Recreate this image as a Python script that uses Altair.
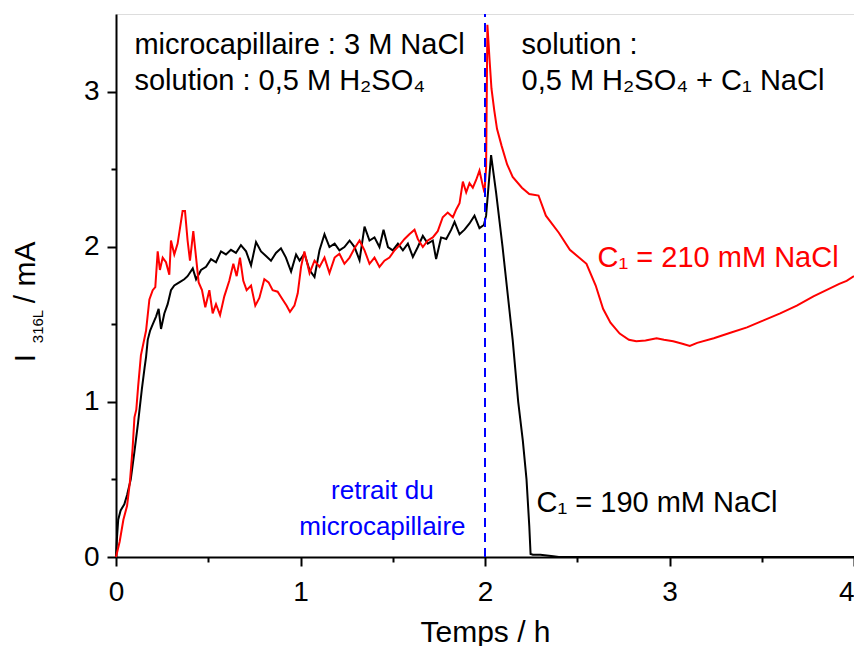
import altair as alt
import pandas as pd

FONT = "Liberation Sans"

# ---- data ----
# black curve : C1 = 190 mM NaCl
black_rise = [(0, 0), (0.005, 0.12), (0.012, 0.24), (0.025, 0.30), (0.045, 0.34), (0.06, 0.40),
              (0.08, 0.50), (0.10, 0.68), (0.12, 0.87), (0.14, 1.08), (0.155, 1.22), (0.163, 1.29),
              (0.172, 1.40), (0.185, 1.46), (0.199, 1.50), (0.217, 1.55), (0.231, 1.60), (0.244, 1.47),
              (0.262, 1.57), (0.28, 1.63), (0.298, 1.72), (0.316, 1.75), (0.343, 1.77), (0.37, 1.79),
              (0.388, 1.81), (0.416, 1.86), (0.434, 1.79), (0.461, 1.85), (0.488, 1.87)]
black_plateau = [(0.515, 1.92), (0.542, 1.90), (0.569, 1.97), (0.596, 1.95), (0.623, 1.98), (0.65, 1.96),
                 (0.677, 2.01), (0.705, 1.97), (0.732, 1.88), (0.759, 2.03), (0.786, 1.97), (0.813, 1.94),
                 (0.84, 1.91), (0.867, 1.96), (0.894, 1.99), (0.921, 1.93), (0.949, 1.84), (0.976, 1.95),
                 (0.995, 1.91), (1.021, 1.955), (1.049, 1.85), (1.076, 1.805), (1.103, 1.977), (1.13, 2.08),
                 (1.157, 1.998), (1.185, 2.02), (1.211, 1.977), (1.238, 1.998), (1.266, 2.04), (1.293, 1.998),
                 (1.32, 1.913), (1.347, 2.13), (1.374, 2.04), (1.401, 2.06), (1.428, 1.998), (1.45, 2.11),
                 (1.474, 1.998), (1.50, 1.977), (1.528, 2.02), (1.555, 1.977), (1.582, 2.02), (1.609, 1.934),
                 (1.636, 1.998), (1.663, 2.07), (1.69, 2.02), (1.717, 2.04), (1.735, 1.92), (1.762, 2.06),
                 (1.79, 2.05), (1.817, 2.11), (1.835, 2.16), (1.862, 2.08), (1.889, 2.11), (1.916, 2.15),
                 (1.943, 2.20), (1.97, 2.12), (1.994, 2.14), (2.006, 2.20)]
black_drop = [(2.033, 2.59), (2.06, 2.35), (2.095, 2.00), (2.127, 1.65), (2.15, 1.40), (2.18, 1.00),
              (2.205, 0.75), (2.225, 0.50), (2.24, 0.20), (2.247, 0.02), (2.26, 0.015), (2.30, 0.015),
              (2.37, 0.005), (2.40, 0.0), (4.0, 0.0)]

# red curve : C1 = 210 mM NaCl
red_rise = [(0, 0), (0.02, 0.10), (0.04, 0.24), (0.06, 0.33), (0.075, 0.48), (0.09, 0.70), (0.10, 0.90),
            (0.11, 0.95), (0.12, 1.10), (0.135, 1.30), (0.163, 1.46), (0.181, 1.66), (0.199, 1.72),
            (0.213, 1.74), (0.226, 1.97), (0.238, 1.85), (0.253, 1.93), (0.271, 1.90), (0.289, 1.82),
            (0.298, 2.04), (0.316, 1.95), (0.334, 2.02), (0.352, 2.16), (0.361, 2.23), (0.374, 2.23),
            (0.388, 2.04), (0.401, 1.91), (0.419, 2.10), (0.434, 1.93)]
red_plateau = [(0.448, 1.77), (0.466, 1.72), (0.484, 1.61), (0.506, 1.72), (0.524, 1.57), (0.542, 1.63),
               (0.564, 1.56), (0.587, 1.68), (0.614, 1.78), (0.636, 1.89), (0.654, 1.81), (0.672, 1.93),
               (0.69, 1.78), (0.708, 1.72), (0.732, 1.75), (0.755, 1.62), (0.777, 1.67), (0.804, 1.79),
               (0.827, 1.77), (0.849, 1.72), (0.876, 1.71), (0.903, 1.66), (0.925, 1.62), (0.943, 1.58),
               (0.967, 1.62), (0.985, 1.70), (1.003, 1.87), (1.021, 1.97), (1.049, 1.83), (1.076, 1.91),
               (1.103, 1.87), (1.13, 1.93), (1.157, 1.83), (1.185, 1.93), (1.211, 1.955), (1.238, 1.89),
               (1.266, 1.93), (1.293, 1.99), (1.32, 2.04), (1.347, 1.977), (1.374, 1.89), (1.401, 1.93),
               (1.428, 1.87), (1.455, 1.91), (1.482, 1.93), (1.51, 1.977), (1.537, 2.01), (1.564, 2.05),
               (1.59, 2.08), (1.618, 2.11), (1.636, 2.05), (1.663, 1.998), (1.69, 2.04), (1.717, 2.06),
               (1.744, 2.10), (1.771, 2.19), (1.798, 2.22), (1.826, 2.19), (1.844, 2.24), (1.862, 2.28),
               (1.88, 2.42), (1.898, 2.35), (1.916, 2.41), (1.934, 2.38), (1.952, 2.43), (1.97, 2.49),
               (1.985, 2.41), (1.997, 2.35), (2.006, 2.51)]
red_decay = [(2.013, 3.43), (2.025, 3.20), (2.035, 3.02), (2.05, 2.88), (2.065, 2.76), (2.09, 2.65),
             (2.12, 2.53), (2.15, 2.45), (2.20, 2.38), (2.24, 2.34), (2.29, 2.33), (2.33, 2.20),
             (2.40, 2.09), (2.46, 1.98), (2.55, 1.89), (2.60, 1.75), (2.64, 1.60), (2.68, 1.51),
             (2.73, 1.44), (2.78, 1.40), (2.82, 1.39), (2.87, 1.395), (2.93, 1.41), (2.97, 1.40),
             (3.02, 1.39), (3.07, 1.375), (3.11, 1.36), (3.15, 1.38), (3.24, 1.41), (3.33, 1.445),
             (3.42, 1.48), (3.50, 1.52), (3.60, 1.57), (3.69, 1.62), (3.78, 1.68), (3.85, 1.72),
             (3.92, 1.76), (3.96, 1.78), (4.0, 1.81)]

x_ticks = [0, 0.5, 1, 1.5, 2, 2.5, 3, 3.5, 4]
y_ticks = [0, 0.5, 1, 1.5, 2, 2.5, 3]
removal_time = 2.0

black_df = pd.DataFrame(black_rise + black_plateau + black_drop, columns=["t", "I"])
red_df = pd.DataFrame(red_rise + red_plateau + red_decay, columns=["t", "I"])
rule_df = pd.DataFrame({"t": [removal_time], "y0": [0.0], "y1": [3.5]})

# annotation texts (positions in data coordinates)
black_notes = pd.DataFrame({
    "t": [0.10, 0.10, 2.198, 2.198, 2.279],
    "I": [3.245, 3.01, 3.245, 3.01, 0.292],
    "label": ["microcapillaire : 3 M NaCl", "solution : 0,5 M H\u2082SO\u2084",
              "solution :", "0,5 M H\u2082SO\u2084 + C\u2081 NaCl", "C\u2081 = 190 mM NaCl"],
})
red_notes = pd.DataFrame({"t": [2.61], "I": [1.87], "label": ["C\u2081 = 210 mM NaCl"]})
blue_notes = pd.DataFrame({"t": [1.444, 1.444], "I": [0.373, 0.142],
                           "label": ["retrait du", "microcapillaire"]})
ytitle_main = pd.DataFrame({"t": [-0.4417, -0.4417], "I": [1.256, 1.636], "label": ["I", "/ mA"]})
ytitle_sub = pd.DataFrame({"t": [-0.398], "I": [1.378], "label": ["316L"]})

xs = alt.Scale(domain=[0, 4], nice=False, zero=False)
ys = alt.Scale(domain=[0, 3.5], nice=False, zero=False)

int_labels = "datum.value % 1 === 0 ? format(datum.value, 'd') : ''"
x_axis = alt.Axis(
    values=x_ticks, labelExpr=int_labels,
    tickSize={"condition": {"test": "datum.value % 1 === 0", "value": 9}, "value": 5},
    labelAlign={"condition": {"test": "datum.value === 4", "value": "right"}, "value": "center"},
    labelFontSize=28, labelFont=FONT, labelColor="black", labelPadding=12, labelFlush=False,
    labelOverlap=False, tickColor="black", tickWidth=2, domainColor="black", domainWidth=2,
    grid=False, title="Temps / h", titleFont=FONT, titleFontSize=30, titleFontWeight="normal",
    titleColor="black", titlePadding=11,
)
y_axis = alt.Axis(
    values=y_ticks, labelExpr=int_labels,
    tickSize={"condition": {"test": "datum.value % 1 === 0", "value": 9}, "value": 5},
    labelFontSize=28, labelFont=FONT, labelColor="black", labelPadding=8, labelFlush=False,
    labelOverlap=False, tickColor="black", tickWidth=2, domainColor="black", domainWidth=2,
    grid=False, title=None,
)

black_line = alt.Chart(black_df).mark_line(color="black", strokeWidth=2).encode(
    x=alt.X("t:Q", scale=xs, axis=x_axis), y=alt.Y("I:Q", scale=ys, axis=y_axis))
red_line = alt.Chart(red_df).mark_line(color="#ff0000", strokeWidth=2).encode(
    x=alt.X("t:Q", scale=xs), y=alt.Y("I:Q", scale=ys))
rule = alt.Chart(rule_df).mark_rule(color="#0000ff", strokeWidth=2, strokeDash=[9, 6]).encode(
    x=alt.X("t:Q", scale=xs), y=alt.Y("y0:Q", scale=ys), y2="y1:Q")


def notes(df, color, size, align="left", angle=0):
    return alt.Chart(df).mark_text(color=color, font=FONT, fontSize=size, align=align,
                                   baseline="alphabetic", angle=angle).encode(
        x=alt.X("t:Q", scale=xs), y=alt.Y("I:Q", scale=ys), text="label:N")


txt_black = notes(black_notes, "black", 29)
txt_red = notes(red_notes, "#ff0000", 29)
txt_blue = notes(blue_notes, "#0000ff", 26, align="center")
txt_ytitle = notes(ytitle_main, "black", 30, angle=270)
txt_ysub = notes(ytitle_sub, "black", 15, angle=270)

chart = alt.layer(black_line, red_line, rule, txt_black, txt_red, txt_blue, txt_ytitle, txt_ysub).properties(
    width=738, height=543,
    autosize=alt.AutoSizeParams(type="none"),
    padding={"left": 108, "top": 6, "right": 0, "bottom": 89},
).configure_view(stroke="black", strokeWidth=2).configure(font=FONT)

chart.save("out.html", embed_options={"renderer": "svg", "actions": False})
